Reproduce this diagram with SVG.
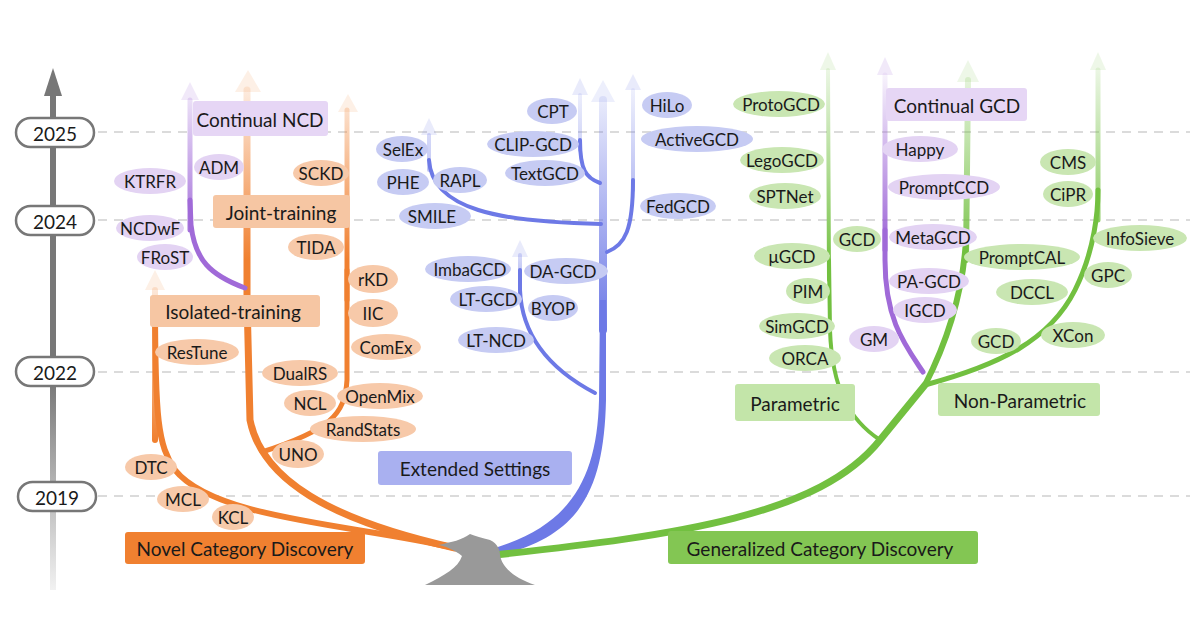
<svg xmlns="http://www.w3.org/2000/svg" width="1200" height="630" viewBox="0 0 1200 630">
<defs>
<style>
text{font-family:Lato,"Liberation Sans",sans-serif;fill:#1a1a1a;text-anchor:middle;dominant-baseline:central}
.t{font-size:17px}.b{font-size:19px}
.grid{stroke:#d0d0d0;stroke-width:1.5;stroke-dasharray:9 7}
.eo{fill:#f7c9a9}.ep{fill:#e3d3f3}.eb{fill:#c6cbf3}.eg{fill:#c9e6b2}
.br{fill:none;stroke-linecap:round}
</style>
<linearGradient id="gAx" gradientUnits="userSpaceOnUse" x1="0" y1="380" x2="0" y2="590"><stop offset="0" stop-color="#777"/><stop offset="1" stop-color="#777" stop-opacity="0.1"/></linearGradient>
<linearGradient id="gO1" gradientUnits="userSpaceOnUse" x1="0" y1="75" x2="0" y2="260"><stop offset="0" stop-color="#f08030" stop-opacity="0.08"/><stop offset="1" stop-color="#f08030"/></linearGradient>
<linearGradient id="gO2" gradientUnits="userSpaceOnUse" x1="0" y1="270" x2="0" y2="440"><stop offset="0" stop-color="#f08030" stop-opacity="0.08"/><stop offset="1" stop-color="#f08030"/></linearGradient>
<linearGradient id="gP" gradientUnits="userSpaceOnUse" x1="0" y1="75" x2="0" y2="240"><stop offset="0" stop-color="#a06ad8" stop-opacity="0.08"/><stop offset="1" stop-color="#a06ad8"/></linearGradient>
<linearGradient id="gB" gradientUnits="userSpaceOnUse" x1="0" y1="80" x2="0" y2="330"><stop offset="0" stop-color="#6d79e6" stop-opacity="0.08"/><stop offset="1" stop-color="#6d79e6"/></linearGradient>
<linearGradient id="gB2" gradientUnits="userSpaceOnUse" x1="0" y1="235" x2="0" y2="330"><stop offset="0" stop-color="#6d79e6" stop-opacity="0.08"/><stop offset="1" stop-color="#6d79e6"/></linearGradient>
<linearGradient id="gG" gradientUnits="userSpaceOnUse" x1="0" y1="55" x2="0" y2="270"><stop offset="0" stop-color="#72c040" stop-opacity="0.08"/><stop offset="1" stop-color="#72c040"/></linearGradient>
</defs>
<rect width="1200" height="630" fill="#fff"/>

<g id="grid">
<line class="grid" x1="98" y1="132" x2="1190" y2="132"/>
<line class="grid" x1="98" y1="220" x2="1190" y2="220"/>
<line class="grid" x1="98" y1="372" x2="1190" y2="372"/>
<line class="grid" x1="98" y1="496" x2="1190" y2="496"/>
</g>

<g id="axis">
<line x1="53" y1="590" x2="53" y2="90" stroke="url(#gAx)" stroke-width="6"/>
<polygon points="44,96 53,68 62,96" fill="#777"/>
<g id="y2025"><rect x="16" y="118" width="78" height="29" rx="14.5" fill="#fff" stroke="#777" stroke-width="2.5"/><text class="b" x="55" y="133">2025</text></g>
<g id="y2024"><rect x="16" y="206" width="78" height="29" rx="14.5" fill="#fff" stroke="#777" stroke-width="2.5"/><text class="b" x="55" y="221">2024</text></g>
<g id="y2022"><rect x="16" y="357" width="78" height="29" rx="14.5" fill="#fff" stroke="#777" stroke-width="2.5"/><text class="b" x="55" y="372">2022</text></g>
<g id="y2019"><rect x="18" y="482" width="78" height="29" rx="14.5" fill="#fff" stroke="#777" stroke-width="2.5"/><text class="b" x="57" y="497">2019</text></g>
</g>

<g id="connectors">
<!-- orange -->
<path class="br" d="M455,548 C360,525 215,520 175,470 C158,445 155,420 155,300" stroke="#f08030" stroke-width="6"/>
<path class="br" d="M155,440 L155,290" stroke="url(#gO2)" stroke-width="6"/>
<polygon points="145,290 155,270 165,290" fill="#f08030" opacity="0.12"/>
<path class="br" d="M455,548 C330,520 262,480 250,420 L247,300" stroke="#f08030" stroke-width="7"/>
<path class="br" d="M247,320 L247,90" stroke="url(#gO1)" stroke-width="7"/>
<polygon points="235,92 248,70 261,92" fill="#f08030" opacity="0.12"/>
<path class="br" d="M262,452 C330,430 345,415 347,380 L347,270" stroke="#f08030" stroke-width="5"/>
<path class="br" d="M347,300 L347,110" stroke="url(#gO1)" stroke-width="5"/>
<polygon points="338,112 348,94 358,112" fill="#f08030" opacity="0.12"/>
<path class="br" d="M245,288 C210,275 195,260 191,225 L190,200" stroke="#a06ad8" stroke-width="5"/>
<path class="br" d="M190,230 L190,100" stroke="url(#gP)" stroke-width="5"/>
<polygon points="181,100 190,82 199,100" fill="#a06ad8" opacity="0.15"/>
<!-- blue -->
<path d="M480,552 C570,530 597,480 599,400 L600,300 L606,300 L606,400 C604,490 580,538 495,556 Z" fill="#6d79e6"/>
<path class="br" d="M603,330 L603,100" stroke="url(#gB)" stroke-width="8"/>
<polygon points="591,102 603,80 615,102" fill="#6d79e6" opacity="0.12"/>
<path class="br" d="M595,393 C555,372 522,340 520,290 L520,270" stroke="#6d79e6" stroke-width="4"/>
<path class="br" d="M520,300 L520,255" stroke="url(#gB2)" stroke-width="4"/>
<polygon points="512,257 520,240 528,257" fill="#6d79e6" opacity="0.15"/>
<path class="br" d="M601,224 C500,222 432,210 429,160" stroke="#6d79e6" stroke-width="4"/>
<path class="br" d="M429,170 L429,135" stroke="url(#gB)" stroke-width="4"/>
<polygon points="421,135 429,118 437,135" fill="#6d79e6" opacity="0.15"/>
<path class="br" d="M600,183 C586,178 580,170 580,140" stroke="#6d79e6" stroke-width="4"/>
<path class="br" d="M580,150 L580,95" stroke="url(#gB)" stroke-width="4"/>
<polygon points="572,95 580,78 588,95" fill="#6d79e6" opacity="0.15"/>
<path class="br" d="M607,252 C625,245 633,230 633,180" stroke="#6d79e6" stroke-width="4"/>
<path class="br" d="M633,190 L633,90" stroke="url(#gB)" stroke-width="4"/>
<polygon points="625,90 633,74 641,90" fill="#6d79e6" opacity="0.15"/>
<!-- green -->
<path class="br" d="M495,555 C680,535 820,515 880,440 L925,385" stroke="#72c040" stroke-width="7"/>
<path class="br" d="M880,440 C850,420 832,390 830,330 L829,260" stroke="#72c040" stroke-width="4"/>
<path class="br" d="M829,280 L828,70" stroke="url(#gG)" stroke-width="4"/>
<polygon points="820,70 828,52 836,70" fill="#72c040" opacity="0.12"/>
<path class="br" d="M925,385 C1000,365 1050,340 1075,290 C1095,250 1098,210 1098,190" stroke="#72c040" stroke-width="5"/>
<path class="br" d="M1098,220 L1098,70" stroke="url(#gG)" stroke-width="5"/>
<polygon points="1090,70 1098,52 1106,70" fill="#72c040" opacity="0.12"/>
<path class="br" d="M925,385 C948,340 963,290 966,240" stroke="#72c040" stroke-width="6"/>
<path class="br" d="M966,260 L968,80" stroke="url(#gG)" stroke-width="6"/>
<polygon points="957,82 968,60 979,82" fill="#72c040" opacity="0.12"/>
<path class="br" d="M923,372 C905,345 885,320 885,260 L885,230" stroke="#a06ad8" stroke-width="5"/>
<path class="br" d="M885,250 L885,75" stroke="url(#gP)" stroke-width="5"/>
<polygon points="877,75 885,57 893,75" fill="#a06ad8" opacity="0.15"/>
</g>

<g id="root"><path d="M425,585 C445,575 458,568 462,556 C455,550 445,546 438,545 C452,542 462,540 470,534 C475,536 482,538 490,540 C498,544 500,550 500,555 C502,568 515,578 535,585 Z" fill="#999"/></g>

<g id="boxes">
<g id="ncd"><rect x="125" y="532" width="240" height="32" rx="3" fill="#f08030"/><text class="b" x="245" y="548">Novel Category Discovery</text></g>
<g id="gcdroot"><rect x="668" y="531" width="310" height="33" rx="3" fill="#83c653"/><text class="b" x="820" y="548">Generalized Category Discovery</text></g>
<g id="cncd"><rect x="193" y="101" width="135" height="35" rx="3" fill="#e6d6f5"/><text class="b" x="260" y="119">Continual NCD</text></g>
<g id="joint"><rect x="213" y="195" width="137" height="33" rx="3" fill="#f6c6a3"/><text class="b" x="281" y="212">Joint-training</text></g>
<g id="isol"><rect x="150" y="295" width="170" height="32" rx="3" fill="#f6c6a3"/><text class="b" x="233" y="311">Isolated-training</text></g>
<g id="ext"><rect x="378" y="451" width="194" height="34" rx="3" fill="#a9b0f0"/><text class="b" x="475" y="468">Extended Settings</text></g>
<g id="param"><rect x="735" y="384" width="120" height="37" rx="3" fill="#c3e5a9"/><text class="b" x="795" y="403">Parametric</text></g>
<g id="nonparam"><rect x="938" y="383" width="162" height="33" rx="3" fill="#c3e5a9"/><text class="b" x="1020" y="400">Non-Parametric</text></g>
<g id="cgcd"><rect x="886" y="88" width="141" height="33" rx="3" fill="#e6d6f5"/><text class="b" x="957" y="105">Continual GCD</text></g>
</g>

<g id="leaves" class="t">
<g id="KTRFR"><ellipse class="ep" cx="150" cy="181" rx="36" ry="13"/><text x="150" y="181">KTRFR</text></g>
<g id="ADM"><ellipse class="ep" cx="219" cy="167" rx="25" ry="13"/><text x="219" y="167">ADM</text></g>
<g id="NCDwF"><ellipse class="ep" cx="150" cy="228" rx="34" ry="13"/><text x="150" y="228">NCDwF</text></g>
<g id="FRoST"><ellipse class="ep" cx="165" cy="257" rx="28" ry="13"/><text x="165" y="257">FRoST</text></g>
<g id="SCKD"><ellipse class="eo" cx="321" cy="173" rx="28" ry="13"/><text x="321" y="173">SCKD</text></g>
<g id="TIDA"><ellipse class="eo" cx="316" cy="247" rx="28" ry="13"/><text x="316" y="247">TIDA</text></g>
<g id="rKD"><ellipse class="eo" cx="373" cy="279" rx="25" ry="14"/><text x="373" y="279">rKD</text></g>
<g id="IIC"><ellipse class="eo" cx="373" cy="313" rx="25" ry="14"/><text x="373" y="313">IIC</text></g>
<g id="ComEx"><ellipse class="eo" cx="386" cy="347" rx="35" ry="13"/><text x="386" y="347">ComEx</text></g>
<g id="ResTune"><ellipse class="eo" cx="197" cy="352" rx="42" ry="13"/><text x="197" y="352">ResTune</text></g>
<g id="DualRS"><ellipse class="eo" cx="300" cy="373" rx="38" ry="13"/><text x="300" y="373">DualRS</text></g>
<g id="NCL"><ellipse class="eo" cx="310" cy="403" rx="26" ry="13"/><text x="310" y="403">NCL</text></g>
<g id="OpenMix"><ellipse class="eo" cx="380" cy="396" rx="43" ry="13"/><text x="380" y="396">OpenMix</text></g>
<g id="RandStats"><ellipse class="eo" cx="363" cy="429" rx="53" ry="13"/><text x="363" y="429">RandStats</text></g>
<g id="UNO"><ellipse class="eo" cx="298" cy="454" rx="26" ry="14"/><text x="298" y="454">UNO</text></g>
<g id="DTC"><ellipse class="eo" cx="151" cy="467" rx="26" ry="13"/><text x="151" y="467">DTC</text></g>
<g id="MCL"><ellipse class="eo" cx="183" cy="499" rx="26" ry="13"/><text x="183" y="499">MCL</text></g>
<g id="KCL"><ellipse class="eo" cx="233" cy="517" rx="21" ry="13"/><text x="233" y="517">KCL</text></g>

<g id="SelEx"><ellipse class="eb" cx="402" cy="149" rx="26" ry="13"/><text x="403" y="149">SelEx</text></g>
<g id="PHE"><ellipse class="eb" cx="403" cy="182" rx="26" ry="13"/><text x="403" y="182">PHE</text></g>
<g id="RAPL"><ellipse class="eb" cx="460" cy="180" rx="27" ry="13"/><text x="460" y="180">RAPL</text></g>
<g id="SMILE"><ellipse class="eb" cx="435" cy="216" rx="36" ry="13"/><text x="432" y="216">SMILE</text></g>
<g id="CPT"><ellipse class="eb" cx="552" cy="111" rx="25" ry="13"/><text x="553" y="111">CPT</text></g>
<g id="CLIP-GCD"><ellipse class="eb" cx="533" cy="144" rx="46" ry="13"/><text x="533" y="144">CLIP-GCD</text></g>
<g id="TextGCD"><ellipse class="eb" cx="545" cy="173" rx="40" ry="13"/><text x="545" y="173">TextGCD</text></g>
<g id="HiLo"><ellipse class="eb" cx="667" cy="105" rx="25" ry="13"/><text x="667" y="105">HiLo</text></g>
<g id="ActiveGCD"><ellipse class="eb" cx="697" cy="139" rx="56" ry="13"/><text x="697" y="139">ActiveGCD</text></g>
<g id="FedGCD"><ellipse class="eb" cx="678" cy="206" rx="38" ry="13"/><text x="678" y="206">FedGCD</text></g>
<g id="ImbaGCD"><ellipse class="eb" cx="468" cy="269" rx="43" ry="13"/><text x="470" y="269">ImbaGCD</text></g>
<g id="DA-GCD"><ellipse class="eb" cx="566" cy="271" rx="42" ry="13"/><text x="563" y="271">DA-GCD</text></g>
<g id="LT-GCD"><ellipse class="eb" cx="486" cy="299" rx="36" ry="13"/><text x="488" y="299">LT-GCD</text></g>
<g id="BYOP"><ellipse class="eb" cx="553" cy="308" rx="25" ry="13"/><text x="553" y="308">BYOP</text></g>
<g id="LT-NCD"><ellipse class="eb" cx="496" cy="340" rx="38" ry="13"/><text x="496" y="340">LT-NCD</text></g>

<g id="ProtoGCD"><ellipse class="eg" cx="779" cy="104" rx="46" ry="13"/><text x="781" y="104">ProtoGCD</text></g>
<g id="LegoGCD"><ellipse class="eg" cx="782" cy="160" rx="42" ry="13"/><text x="782" y="160">LegoGCD</text></g>
<g id="SPTNet"><ellipse class="eg" cx="785" cy="196" rx="36" ry="13"/><text x="785" y="196">SPTNet</text></g>
<g id="GCDa"><ellipse class="eg" cx="857" cy="239" rx="24" ry="13"/><text x="857" y="239">GCD</text></g>
<g id="muGCD"><ellipse class="eg" cx="792" cy="256" rx="38" ry="13"/><text x="792" y="256">μGCD</text></g>
<g id="PIM"><ellipse class="eg" cx="808" cy="291" rx="22" ry="13"/><text x="808" y="291">PIM</text></g>
<g id="SimGCD"><ellipse class="eg" cx="797" cy="326" rx="38" ry="13"/><text x="797" y="326">SimGCD</text></g>
<g id="ORCA"><ellipse class="eg" cx="805" cy="358" rx="36" ry="13"/><text x="805" y="358">ORCA</text></g>
<g id="GM"><ellipse class="ep" cx="874" cy="339" rx="25" ry="13"/><text x="874" y="339">GM</text></g>
<g id="Happy"><ellipse class="ep" cx="920" cy="149" rx="38" ry="13"/><text x="920" y="149">Happy</text></g>
<g id="PromptCCD"><ellipse class="ep" cx="944" cy="187" rx="56" ry="13"/><text x="944" y="187">PromptCCD</text></g>
<g id="MetaGCD"><ellipse class="ep" cx="933" cy="237" rx="44" ry="13"/><text x="933" y="237">MetaGCD</text></g>
<g id="PA-GCD"><ellipse class="ep" cx="929" cy="281" rx="40" ry="13"/><text x="929" y="281">PA-GCD</text></g>
<g id="IGCD"><ellipse class="ep" cx="925" cy="310" rx="32" ry="13"/><text x="925" y="310">IGCD</text></g>
<g id="PromptCAL"><ellipse class="eg" cx="1022" cy="257" rx="58" ry="13"/><text x="1022" y="257">PromptCAL</text></g>
<g id="DCCL"><ellipse class="eg" cx="1032" cy="292" rx="36" ry="13"/><text x="1032" y="292">DCCL</text></g>
<g id="GCDb"><ellipse class="eg" cx="996" cy="341" rx="25" ry="13"/><text x="996" y="341">GCD</text></g>
<g id="XCon"><ellipse class="eg" cx="1073" cy="335" rx="32" ry="13"/><text x="1073" y="335">XCon</text></g>
<g id="GPC"><ellipse class="eg" cx="1108" cy="275" rx="24" ry="13"/><text x="1108" y="275">GPC</text></g>
<g id="InfoSieve"><ellipse class="eg" cx="1140" cy="238" rx="47" ry="13"/><text x="1140" y="238">InfoSieve</text></g>
<g id="CMS"><ellipse class="eg" cx="1068" cy="162" rx="28" ry="13"/><text x="1068" y="162">CMS</text></g>
<g id="CiPR"><ellipse class="eg" cx="1068" cy="194" rx="25" ry="13"/><text x="1068" y="194">CiPR</text></g>
</g>
</svg>
